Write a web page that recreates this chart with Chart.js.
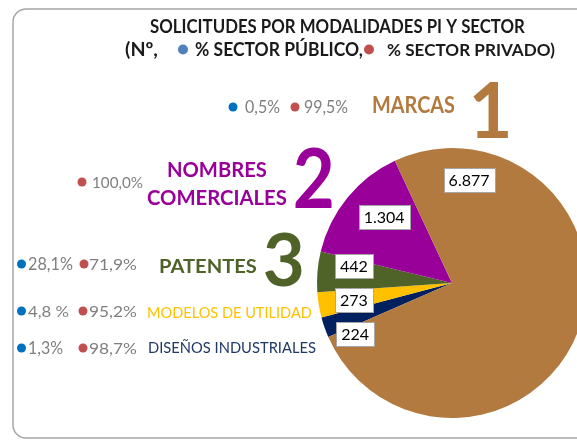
<!DOCTYPE html>
<html>
<head>
<meta charset="utf-8">
<script src="https://cdn.jsdelivr.net/npm/chart.js@4"></script>
<style>
    html, body { margin: 0; padding: 0; background: #fff; overflow: hidden; }
    #wrap { position: relative; width: 577px; height: 441px; overflow: hidden; }
</style>
</head>
<body>
<div id="wrap"><canvas id="chart" width="620" height="441"></canvas></div>
<script>
var categories = ['MARCAS', 'NOMBRES COMERCIALES', 'PATENTES', 'MODELOS DE UTILIDAD', 'DISEÑOS INDUSTRIALES'];
var requests = [6877, 1304, 442, 273, 224];
var pctPublic = ['0,5%', null, '28,1%', '4,8 %', '1,3%'];
var pctPrivate = ['99,5%', '100,0%', '71,9%', '95,2%', '98,7%'];
var ranks = ['1', '2', '3', '', ''];

var sliceColors = ['#B27A3E', '#990099', '#4F6228', '#FFC000', '#002060'];
var nameColors = ['#B27A3E', '#990099', '#4F6228', '#FFC000', '#1F3864'];

// where each value box sits: compass angle (deg) and fraction of the radius
var labelAngle = [9.4, 314.1, 279.8, 260.2, 242.3];
var labelRadius = [0.773, 0.70, 0.737, 0.737, 0.81];

var FONT = 'Lato, "Open Sans", sans-serif';
var GREY = '#7F7F7F';
var DOT_BLUE = '#0070C0';
var DOT_RED = '#C0504D';

function fmt(n) {
    return String(n).replace(/\B(?=(\d{3})+(?!\d))/g, '.');
}

// text squeezed between left and right, caps centred on cy, caps capH tall
function fitText(ctx, text, left, right, cy, capH, weight, color) {
    ctx.font = weight + ' 20px ' + FONT;
    var w = ctx.measureText(text).width;
    var size = 20 * (right - left) / w;
    ctx.font = weight + ' ' + size + 'px ' + FONT;
    var cap = ctx.measureText('H').actualBoundingBoxAscent;
    var sy = capH / cap;
    ctx.save();
    ctx.translate(left, cy + capH / 2);
    ctx.scale(1, sy);
    ctx.fillStyle = color;
    ctx.textAlign = 'left';
    ctx.textBaseline = 'alphabetic';
    ctx.fillText(text, 0, 0);
    ctx.restore();
}

// big rank digits, stretched to fill a box
function boxText(ctx, text, left, right, top, bottom, color) {
    ctx.font = 'bold 100px ' + FONT;
    ctx.textAlign = 'left';
    ctx.textBaseline = 'alphabetic';
    var m = ctx.measureText(text);
    var gw = m.actualBoundingBoxLeft + m.actualBoundingBoxRight;
    var gh = m.actualBoundingBoxAscent + m.actualBoundingBoxDescent;
    ctx.save();
    ctx.translate(left, top);
    ctx.scale((right - left) / gw, (bottom - top) / gh);
    ctx.fillStyle = color;
    ctx.fillText(text, m.actualBoundingBoxLeft, m.actualBoundingBoxAscent);
    ctx.restore();
}

function dot(ctx, x, y, r, color) {
    ctx.beginPath();
    ctx.arc(x, y, r, 0, Math.PI * 2);
    ctx.fillStyle = color;
    ctx.fill();
}

function frame(ctx) {
    var x = 13, y = 9, w = 700, h = 429, r = 13;
    ctx.beginPath();
    ctx.moveTo(x + r, y);
    ctx.lineTo(x + w, y);
    ctx.lineTo(x + w, y + h);
    ctx.lineTo(x + r, y + h);
    ctx.arcTo(x, y + h, x, y + h - r, r);
    ctx.lineTo(x, y + r);
    ctx.arcTo(x, y, x + r, y, r);
    ctx.strokeStyle = '#A6A6A6';
    ctx.lineWidth = 1.5;
    ctx.stroke();
}

var notesPlugin = {
    id: 'notes',
    beforeDraw: function (chart) {
        var ctx = chart.ctx;
        ctx.save();
        frame(ctx);

        // title
        fitText(ctx, 'SOLICITUDES POR MODALIDADES PI Y SECTOR', 150, 525, 25.5, 14, 'bold', '#1A1A1A');
        fitText(ctx, '(Nº,', 125, 158, 49.5, 13.5, 'bold', '#1A1A1A');
        dot(ctx, 183, 49.5, 5, '#4F81BD');
        fitText(ctx, '% SECTOR PÚBLICO,', 195, 363, 49.5, 13.5, 'bold', '#1A1A1A');
        dot(ctx, 369, 49.5, 5, '#C0504D');
        fitText(ctx, '% SECTOR PRIVADO)', 387, 555, 49.5, 13.5, 'bold', '#1A1A1A');

        // 1 marcas
        dot(ctx, 233, 107, 4.5, DOT_BLUE);
        fitText(ctx, pctPublic[0], 245, 280, 107, 11.5, 'normal', GREY);
        dot(ctx, 295, 107, 4.5, DOT_RED);
        fitText(ctx, pctPrivate[0], 304, 348, 107, 11.5, 'normal', GREY);
        fitText(ctx, 'MARCAS', 372, 455, 105, 16, 'bold', nameColors[0]);
        boxText(ctx, ranks[0], 473, 508, 82, 138, nameColors[0]);

        // 2 nombres comerciales
        dot(ctx, 82, 182, 4.5, DOT_RED);
        fitText(ctx, pctPrivate[1], 92, 143, 182, 11.5, 'normal', GREY);
        fitText(ctx, 'NOMBRES', 167, 267, 169, 15, 'bold', nameColors[1]);
        fitText(ctx, 'COMERCIALES', 147, 287, 197, 15, 'bold', nameColors[1]);
        boxText(ctx, ranks[1], 295, 332, 148, 208, nameColors[1]);

        // 3 patentes
        dot(ctx, 21.5, 264, 4.5, DOT_BLUE);
        fitText(ctx, pctPublic[2], 28, 73, 264, 11.5, 'normal', GREY);
        dot(ctx, 84, 264, 4.5, DOT_RED);
        fitText(ctx, pctPrivate[2], 89, 137, 264, 11.5, 'normal', GREY);
        fitText(ctx, 'PATENTES', 159, 257, 266, 14.5, 'bold', nameColors[2]);
        boxText(ctx, ranks[2], 265, 302, 233, 287, nameColors[2]);

        // modelos de utilidad
        dot(ctx, 21.5, 311, 4.5, DOT_BLUE);
        fitText(ctx, pctPublic[3], 28, 69, 311, 11.5, 'normal', GREY);
        dot(ctx, 83, 311, 4.5, DOT_RED);
        fitText(ctx, pctPrivate[3], 89, 137, 311, 11.5, 'normal', GREY);
        fitText(ctx, categories[3], 147, 312, 312, 12, 'normal', nameColors[3]);

        // disenos industriales
        dot(ctx, 21.5, 348, 4.5, DOT_BLUE);
        fitText(ctx, pctPublic[4], 28, 63, 348, 11.5, 'normal', GREY);
        dot(ctx, 83, 348, 4.5, DOT_RED);
        fitText(ctx, pctPrivate[4], 89, 137, 348, 11.5, 'normal', GREY);
        fitText(ctx, categories[4], 148, 316, 347, 12, 'normal', nameColors[4]);

        ctx.restore();
    },
    afterDatasetsDraw: function (chart) {
        var ctx = chart.ctx;
        var meta = chart.getDatasetMeta(0);
        ctx.save();
        ctx.font = '16px ' + FONT;
        ctx.textAlign = 'center';
        ctx.textBaseline = 'middle';
        meta.data.forEach(function (arc, i) {
            var k = order[i];
            var r = arc.outerRadius * labelRadius[k];
            var a = labelAngle[k] * Math.PI / 180;
            var x = arc.x + r * Math.sin(a);
            var y = arc.y - r * Math.cos(a);
            var txt = fmt(requests[k]);
            var w = ctx.measureText(txt).width + 10;
            var h = 24;
            ctx.fillStyle = '#FFFFFF';
            ctx.fillRect(Math.round(x - w / 2) + 0.5, Math.round(y - h / 2) + 0.5, Math.round(w), h);
            ctx.strokeStyle = '#A6A6A6';
            ctx.lineWidth = 1;
            ctx.strokeRect(Math.round(x - w / 2) + 0.5, Math.round(y - h / 2) + 0.5, Math.round(w), h);
            ctx.fillStyle = '#000000';
            ctx.fillText(txt, x, y + 1);
        });
        ctx.restore();
    }
};

// the pie runs clockwise from DISEÑOS up to MARCAS
var order = [4, 3, 2, 1, 0];

var ctx = document.getElementById('chart');
var myChart = new Chart(ctx, {
    type: 'pie',
    data: {
        labels: order.map(function (k) { return categories[k]; }),
        datasets: [{
            data: order.map(function (k) { return requests[k]; }),
            backgroundColor: order.map(function (k) { return sliceColors[k]; }),
            borderWidth: 0,
            hoverOffset: 0
        }]
    },
    options: {
        responsive: false,
        animation: false,
        events: [],
        rotation: -113.6,
        layout: {
            padding: { left: 317, right: 33, top: 148, bottom: 23 }
        },
        plugins: {
            legend: { display: false },
            tooltip: { enabled: false }
        }
    },
    plugins: [notesPlugin]
});
</script>
</body>
</html>
